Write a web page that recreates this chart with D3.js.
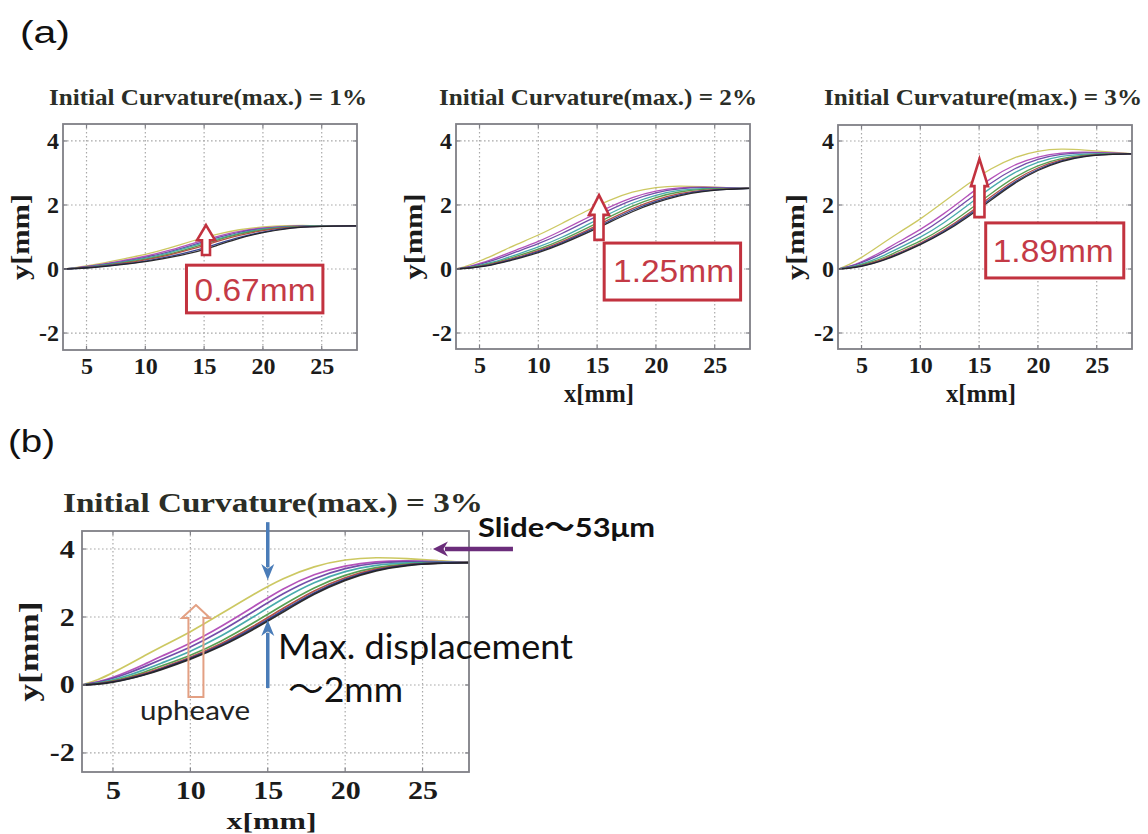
<!DOCTYPE html>
<html><head><meta charset="utf-8">
<script src="https://cdn.jsdelivr.net/npm/d3@7/dist/d3.min.js"></script>
<style>body{margin:0;background:#fff}</style>
</head><body>
<svg id="c" width="1148" height="834" xmlns="http://www.w3.org/2000/svg"></svg>
<script>
// ---------------- data ----------------
const xs = [3,4,5,6,7,8,10,12,14,16,18,20,22,24,26,28];
const seriesNames = ["yellow","magenta","violet","cyan","green","red","navy","black"];
const seriesColors = ["#c9c55a","#b04ab6","#6c43a4","#3ea7a8","#4f9a4a","#b0483c","#2f3b8c","#222222"];

// Initial curvature 1%
const curv1 = [
  [0,0.04,0.10,0.16,0.23,0.31,0.45,0.65,0.88,1.08,1.24,1.32,1.36,1.36,1.35,1.35],
  [0,0.03,0.08,0.13,0.19,0.26,0.39,0.57,0.80,1.01,1.19,1.29,1.34,1.35,1.35,1.35],
  [0,0.03,0.07,0.12,0.17,0.23,0.36,0.53,0.75,0.97,1.16,1.27,1.33,1.35,1.35,1.35],
  [0,0.02,0.06,0.10,0.15,0.21,0.33,0.50,0.71,0.93,1.13,1.25,1.32,1.34,1.35,1.35],
  [0,0.02,0.05,0.09,0.14,0.19,0.30,0.46,0.67,0.89,1.10,1.23,1.31,1.34,1.35,1.35],
  [0,0.02,0.05,0.08,0.12,0.17,0.28,0.43,0.62,0.85,1.06,1.21,1.30,1.33,1.34,1.35],
  [0,0.01,0.04,0.07,0.11,0.15,0.24,0.38,0.55,0.77,1.00,1.16,1.28,1.33,1.34,1.35],
  [0,0.01,0.03,0.06,0.10,0.14,0.22,0.35,0.50,0.72,0.97,1.14,1.27,1.32,1.34,1.35]
];
// Initial curvature 2%
const curv2 = [
  [0,0.10,0.25,0.40,0.57,0.75,1.05,1.42,1.80,2.15,2.42,2.56,2.60,2.57,2.54,2.52],
  [0,0.06,0.17,0.29,0.43,0.58,0.85,1.20,1.57,1.93,2.25,2.45,2.55,2.56,2.54,2.52],
  [0,0.05,0.14,0.25,0.38,0.52,0.78,1.10,1.47,1.84,2.17,2.40,2.52,2.55,2.53,2.52],
  [0,0.04,0.11,0.20,0.31,0.43,0.68,0.98,1.35,1.72,2.07,2.32,2.47,2.52,2.52,2.52],
  [0,0.03,0.09,0.17,0.27,0.38,0.61,0.90,1.25,1.62,1.98,2.25,2.42,2.50,2.51,2.52],
  [0,0.03,0.08,0.15,0.24,0.34,0.56,0.85,1.18,1.54,1.90,2.17,2.37,2.47,2.50,2.52],
  [0,0.02,0.07,0.13,0.22,0.32,0.53,0.81,1.14,1.49,1.85,2.12,2.33,2.45,2.49,2.52],
  [0,0.02,0.06,0.12,0.20,0.30,0.50,0.78,1.10,1.45,1.80,2.08,2.30,2.43,2.49,2.52]
];
// Initial curvature 3%
const curv3 = [
  [0,0.14,0.36,0.60,0.85,1.10,1.55,2.10,2.65,3.15,3.50,3.70,3.76,3.72,3.66,3.60],
  [0,0.08,0.22,0.40,0.60,0.82,1.22,1.72,2.28,2.85,3.27,3.52,3.64,3.66,3.63,3.60],
  [0,0.07,0.19,0.35,0.53,0.73,1.10,1.58,2.14,2.70,3.15,3.45,3.60,3.64,3.62,3.60],
  [0,0.05,0.15,0.28,0.44,0.62,0.98,1.43,1.98,2.55,3.03,3.36,3.54,3.60,3.61,3.60],
  [0,0.04,0.12,0.23,0.37,0.54,0.86,1.28,1.80,2.36,2.88,3.25,3.47,3.57,3.60,3.60],
  [0,0.03,0.10,0.20,0.33,0.48,0.80,1.20,1.70,2.26,2.79,3.18,3.43,3.55,3.59,3.60],
  [0,0.03,0.09,0.18,0.30,0.45,0.77,1.16,1.65,2.20,2.73,3.13,3.40,3.54,3.59,3.60],
  [0,0.02,0.08,0.17,0.29,0.43,0.75,1.13,1.61,2.15,2.69,3.10,3.38,3.53,3.58,3.60]
];

const xTicks = [5,10,15,20,25];
const yTicks = [-2,0,2,4];
const titles = ["Initial Curvature(max.) = 1%","Initial Curvature(max.) = 2%","Initial Curvature(max.) = 3%"];
const diffLabels = ["0.67mm","1.25mm","1.89mm"];

// ---------------- drawing ----------------
const svg = d3.select("#c");
svg.append("rect").attr("width",1148).attr("height",834).attr("fill","#fff");
const defs = svg.append("defs");
const SERIF = "'Liberation Serif','Times New Roman',serif";
const SANS = "'Liberation Sans',Arial,sans-serif";
const CAL = "Lato,'Noto Sans','Noto Sans CJK JP',sans-serif";
const fmt = d => String(d);

function hollowArrow(g, x, y, a, color, sw, fill){
  const cx = x(a.x), tip = y(a.tip), base = y(a.base), bot = y(a.bottom);
  const hw = a.headW/2, sw2 = a.shaftW/2;
  const pts = [[cx,tip],[cx+hw,base],[cx+sw2,base],[cx+sw2,bot],[cx-sw2,bot],[cx-sw2,base],[cx-hw,base]];
  g.append("polygon").attr("points",pts.map(p=>p.join(",")).join(" "))
    .attr("fill",fill).attr("stroke",color).attr("stroke-width",sw).attr("stroke-linejoin","miter");
}

function stealth(g, x1, y1, x2, y2, color, w, hl, hw){
  const dx = x2-x1, dy = y2-y1, L = Math.hypot(dx,dy), ux = dx/L, uy = dy/L;
  const bx = x2-ux*hl*0.8, by = y2-uy*hl*0.8;
  g.append("line").attr("x1",x1).attr("y1",y1).attr("x2",bx).attr("y2",by)
    .attr("stroke",color).attr("stroke-width",w);
  const px = -uy, py = ux;
  const p = [[x2,y2],[x2-ux*hl+px*hw/2,y2-uy*hl+py*hw/2],[x2-ux*hl*0.7,y2-uy*hl*0.7],[x2-ux*hl-px*hw/2,y2-uy*hl-py*hw/2]];
  g.append("polygon").attr("points",p.map(q=>q.join(",")).join(" ")).attr("fill",color);
}

function panel(cfg, idx){
  const g = svg.append("g");
  const x = d3.scaleLinear().domain([3,28]).range([cfg.L,cfg.R]);
  const y = d3.scaleLinear().domain(cfg.yDom).range([cfg.B,cfg.T]);
  const s = cfg.stretch;

  // grid
  const grid = g.append("g").attr("stroke","#a9a9a9").attr("stroke-width",1.2).attr("stroke-dasharray","1.6 2.4");
  xTicks.forEach(t=>grid.append("line").attr("x1",x(t)).attr("x2",x(t)).attr("y1",cfg.T).attr("y2",cfg.B));
  yTicks.forEach(t=>grid.append("line").attr("y1",y(t)).attr("y2",y(t)).attr("x1",cfg.L).attr("x2",cfg.R));

  // curves
  const cid = "clip"+idx;
  defs.append("clipPath").attr("id",cid).append("rect")
    .attr("x",cfg.L).attr("y",cfg.T).attr("width",cfg.R-cfg.L).attr("height",cfg.B-cfg.T);
  const line = d3.line().x((d,i)=>x(xs[i])).y(d=>y(d)).curve(d3.curveBasis);
  const cg = g.append("g").attr("clip-path",`url(#${cid})`);
  cfg.data.forEach((ser,i)=>{
    cg.append("path").attr("d",line(ser)).attr("fill","none")
      .attr("stroke",seriesColors[i]).attr("stroke-width",cfg.lw).attr("stroke-opacity",0.95);
  });

  // box + inner ticks
  g.append("rect").attr("x",cfg.L).attr("y",cfg.T).attr("width",cfg.R-cfg.L).attr("height",cfg.B-cfg.T)
    .attr("fill","none").attr("stroke","#7f7f86").attr("stroke-width",1.8);
  const tk = g.append("g").attr("stroke","#7f7f86").attr("stroke-width",1.2);
  xTicks.forEach(t=>{
    tk.append("line").attr("x1",x(t)).attr("x2",x(t)).attr("y1",cfg.B).attr("y2",cfg.B-4);
    tk.append("line").attr("x1",x(t)).attr("x2",x(t)).attr("y1",cfg.T).attr("y2",cfg.T+4);
  });
  yTicks.forEach(t=>{
    tk.append("line").attr("y1",y(t)).attr("y2",y(t)).attr("x1",cfg.L).attr("x2",cfg.L+4);
    tk.append("line").attr("y1",y(t)).attr("y2",y(t)).attr("x1",cfg.R).attr("x2",cfg.R-4);
  });

  // axes labels
  const ax = g.append("g").attr("transform",`translate(0,${cfg.B})`)
    .call(d3.axisBottom(x).tickValues(xTicks).tickFormat(fmt).tickSize(0).tickPadding(cfg.xPad));
  const ay = g.append("g").attr("transform",`translate(${cfg.L},0)`)
    .call(d3.axisLeft(y).tickValues(yTicks).tickFormat(fmt).tickSize(0).tickPadding(cfg.yPad));
  [ax,ay].forEach(a=>{
    a.select(".domain").remove();
    a.selectAll("text").attr("font-family",SERIF).attr("font-weight","bold")
      .attr("font-size",cfg.fs).attr("fill","#1b1b1b").attr("transform",`scale(${s},1)`);
  });

  // title
  g.append("text").attr("x",cfg.titleX).attr("y",cfg.titleY).attr("text-anchor","middle")
    .attr("font-family",SERIF).attr("font-weight","bold").attr("font-size",cfg.titleFs)
    .attr("fill","#2b2e27").attr("textLength",cfg.titleLen).attr("lengthAdjust","spacingAndGlyphs")
    .text(cfg.title);

  // y label
  g.append("text").attr("transform",`translate(${cfg.ylabX},${(cfg.T+cfg.B)/2}) rotate(-90)`)
    .attr("text-anchor","middle").attr("dy","0.35em")
    .attr("font-family",SERIF).attr("font-weight","bold").attr("font-size",cfg.labFs)
    .attr("fill","#1b1b1b").attr("textLength",cfg.ylabLen).attr("lengthAdjust","spacingAndGlyphs")
    .text("y[mm]");
  if(cfg.xlab){
    g.append("text").attr("x",(cfg.L+cfg.R)/2-4).attr("y",cfg.xlabY).attr("text-anchor","middle")
      .attr("font-family",SERIF).attr("font-weight","bold").attr("font-size",cfg.xlabFs || cfg.labFs)
      .attr("fill","#1b1b1b").attr("textLength",cfg.xlabLen).attr("lengthAdjust","spacingAndGlyphs")
      .text("x[mm]");
  }
  return {g,x,y};
}

const red = "#c2323f";
const panelsA = [
  {L:63,R:357,T:124,B:350,yDom:[-2.53,4.53],data:curv1,xlab:false,
   titleX:208,
   arrow:{x:15.16,tip:1.37,base:0.9,bottom:0.44,headW:18,shaftW:8},
   box:{x0:13.5,x1:25.1,y0:0.12,y1:-1.37}, lab:{x:19.33,y:-1.0}},
  {L:456,R:750,T:124,B:349,yDom:[-2.5,4.53],data:curv2,xlab:true,
   titleX:598,
   arrow:{x:15.16,tip:2.31,base:1.69,bottom:0.91,headW:20,shaftW:9},
   box:{x0:15.6,x1:27.2,y0:0.81,y1:-0.97}, lab:{x:21.5,y:-0.41}},
  {L:838,R:1132,T:125,B:349,yDom:[-2.5,4.5],data:curv3,xlab:true,
   titleX:983,
   arrow:{x:15.03,tip:3.44,base:2.59,bottom:1.62,headW:17,shaftW:10},
   box:{x0:15.56,x1:27.3,y0:1.44,y1:-0.28}, lab:{x:21.3,y:0.22}}
];

panelsA.forEach((p,i)=>{
  const cfg = Object.assign({lw:1.3,stretch:1,xPad:7,yPad:4,fs:24,titleY:105,titleFs:23,titleLen:318,
    title:titles[i],ylabX:p.L-43,ylabLen:86,labFs:26,xlabY:402,xlabLen:70},p);
  const {g,x,y} = panel(cfg,i);
  hollowArrow(g,x,y,p.arrow,red,2.6,"#fff");
  g.append("rect").attr("x",x(p.box.x0)).attr("y",y(p.box.y0))
    .attr("width",x(p.box.x1)-x(p.box.x0)).attr("height",y(p.box.y1)-y(p.box.y0))
    .attr("fill","#fff").attr("stroke",red).attr("stroke-width",3);
  g.append("text").attr("x",x(p.lab.x)).attr("y",y(p.lab.y)).attr("text-anchor","middle")
    .attr("font-family",SANS).attr("font-size",31).attr("fill","#c43a46")
    .attr("textLength",121).attr("lengthAdjust","spacingAndGlyphs").text(diffLabels[i]);
});

// panel (b)
const pb = panel({L:82,R:469,T:531,B:772,yDom:[-2.56,4.53],data:curv3,xlab:true,lw:1.7,stretch:1.2,
  xPad:9,yPad:6,fs:25,titleX:273,titleY:512,titleFs:27,titleLen:420,title:titles[2],
  ylabX:28,ylabLen:100,labFs:28,xlabFs:24,xlabY:829,xlabLen:90},3);
{
  const {g,x,y} = pb;
  // upheave arrow (hollow, salmon)
  hollowArrow(g,x,y,{x:10.36,tip:2.35,base:1.97,bottom:-0.35,headW:28,shaftW:15},"#e3a083",2,"none");
  // blue arrows
  stealth(g,x(15),y(4.79),x(15),y(3.09),"#4a7cb8",3.5,16,13);
  stealth(g,x(15),y(-0.09),x(15),y(1.91),"#4a7cb8",3.5,16,13);
  // purple slide arrow
  stealth(g,x(30.84),y(4),x(25.67),y(4),"#6b2d7b",4.5,15,15);
}
const ann = svg.append("g");
ann.append("text").attr("x",478).attr("y",537).attr("font-family",CAL).attr("font-weight","bold")
  .attr("font-size",27).attr("fill","#111").attr("textLength",177).attr("lengthAdjust","spacingAndGlyphs")
  .text("Slide～53μm");
ann.append("text").attr("x",278).attr("y",659).attr("font-family",CAL)
  .attr("font-size",35).attr("fill","#111").attr("textLength",295).attr("lengthAdjust","spacingAndGlyphs")
  .text("Max. displacement");
ann.append("text").attr("x",288).attr("y",702).attr("font-family",CAL)
  .attr("font-size",35).attr("fill","#111").attr("textLength",115).attr("lengthAdjust","spacingAndGlyphs")
  .text("～2mm");
ann.append("text").attr("x",140).attr("y",720).attr("font-family",CAL)
  .attr("font-size",26).attr("fill","#222").attr("textLength",110).attr("lengthAdjust","spacingAndGlyphs")
  .text("upheave");

// panel letters
svg.append("text").attr("x",20).attr("y",43).attr("font-family",SANS).attr("font-size",31)
  .attr("fill","#111").attr("textLength",50).attr("lengthAdjust","spacingAndGlyphs").text("(a)");
svg.append("text").attr("x",8).attr("y",452).attr("font-family",SANS).attr("font-size",31)
  .attr("fill","#111").attr("textLength",47).attr("lengthAdjust","spacingAndGlyphs").text("(b)");
</script>
</body></html>
